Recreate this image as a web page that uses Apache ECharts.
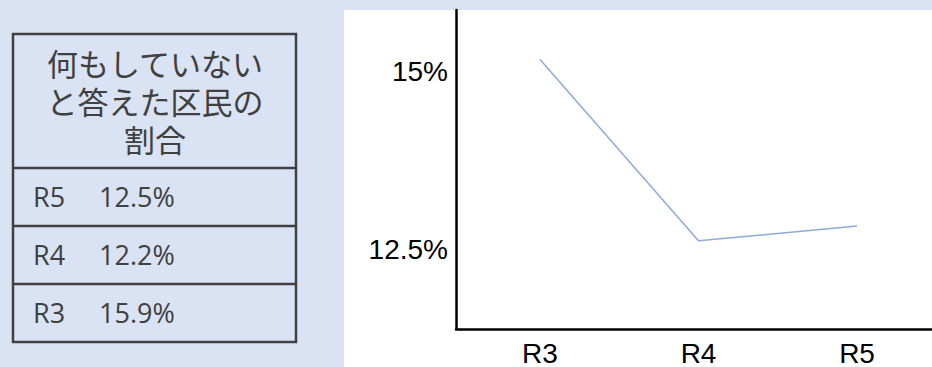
<!DOCTYPE html>
<html>
<head>
<meta charset="utf-8">
<script src="https://cdn.jsdelivr.net/npm/echarts@6/dist/echarts.min.js"></script>
<style>
	html, body {
		margin: 0;
		padding: 0;
		background: #dae3f3;
	}
	#chart {
		width: 932px;
		height: 367px;
	}
</style>
</head>
<body>
<div id="chart"></div>
<script>
	// データ
	var years = ['R3', 'R4', 'R5'];
	var rates = [15.9, 12.2, 12.5];
	var yTicks = [12.5, 15];
	var tableTitle = ['何もしていない', 'と答えた区民の', '割合'];

	var textColor = '#404040';
	var axisFont = '"Liberation Sans", Arial, sans-serif';
	var tableFont = '"Noto Sans CJK JP", sans-serif';
	var rowFont = '27px "Open Sans", sans-serif';

	var myChart = echarts.init(document.getElementById('chart'), null, { renderer: 'svg' });

	// 左の表（新しい年度が上）
	var graphic = [{
		type: 'rect',
		shape: { x: 344, y: 10, width: 588, height: 357 },
		style: { fill: '#ffffff' },
		z: -10
	}, {
		type: 'rect',
		shape: { x: 13, y: 34, width: 283, height: 308 },
		style: { fill: 'none', stroke: textColor, lineWidth: 2.5 }
	}, {
		type: 'text',
		x: 155,
		y: 100,
		style: {
			text: tableTitle.join('\n'),
			fill: textColor,
			font: '31px ' + tableFont,
			lineHeight: 38,
			align: 'center',
			verticalAlign: 'middle'
		}
	}];
	var rowTops = [168, 226, 284];
	rowTops.forEach(function (y) {
		graphic.push({
			type: 'line',
			shape: { x1: 13, y1: y, x2: 296, y2: y },
			style: { stroke: textColor, lineWidth: 2.5 }
		});
	});
	for (var i = 0; i < years.length; i++) {
		var idx = years.length - 1 - i;
		var cy = rowTops[i] + 28;
		graphic.push({
			type: 'text',
			x: 33,
			y: cy,
			style: { text: years[idx], fill: textColor, font: rowFont, verticalAlign: 'middle' }
		});
		graphic.push({
			type: 'text',
			x: 99,
			y: cy,
			style: { text: rates[idx].toFixed(1) + '%', fill: textColor, font: rowFont, verticalAlign: 'middle' }
		});
	}

	var option = {
		backgroundColor: '#dae3f3',
		animation: false,
		graphic: graphic,
		grid: {
			left: 456,
			top: 10,
			right: 0,
			bottom: 35
		},
		xAxis: {
			type: 'value',
			min: -0.53,
			max: 2.473,
			axisLine: { show: true, onZero: false, lineStyle: { color: '#000', width: 2.5 } },
			axisTick: { show: false },
			splitLine: { show: false },
			axisLabel: {
				customValues: [0, 1, 2],
				formatter: function (v) { return years[Math.round(v)]; },
				color: '#000',
				fontFamily: axisFont,
				fontSize: 28,
				margin: 10
			}
		},
		yAxis: [{
			// 目盛ラベル用
			type: 'value',
			min: 11.389,
			max: 15.861,
			axisLine: { show: true, onZero: false, lineStyle: { color: '#000', width: 2.5 } },
			axisTick: { show: false },
			splitLine: { show: false },
			axisLabel: {
				customValues: yTicks,
				formatter: function (v) { return v + '%'; },
				color: '#000',
				fontFamily: axisFont,
				fontSize: 28,
				margin: 8
			}
		}, {
			// 折れ線用
			type: 'value',
			show: false,
			min: 10.40,
			max: 16.91
		}],
		series: [{
			type: 'line',
			yAxisIndex: 1,
			symbol: 'none',
			lineStyle: { color: '#8eaadb', width: 1.5 },
			data: years.map(function (y, i) { return [i, rates[i]]; })
		}]
	};
	myChart.setOption(option);
</script>
</body>
</html>
